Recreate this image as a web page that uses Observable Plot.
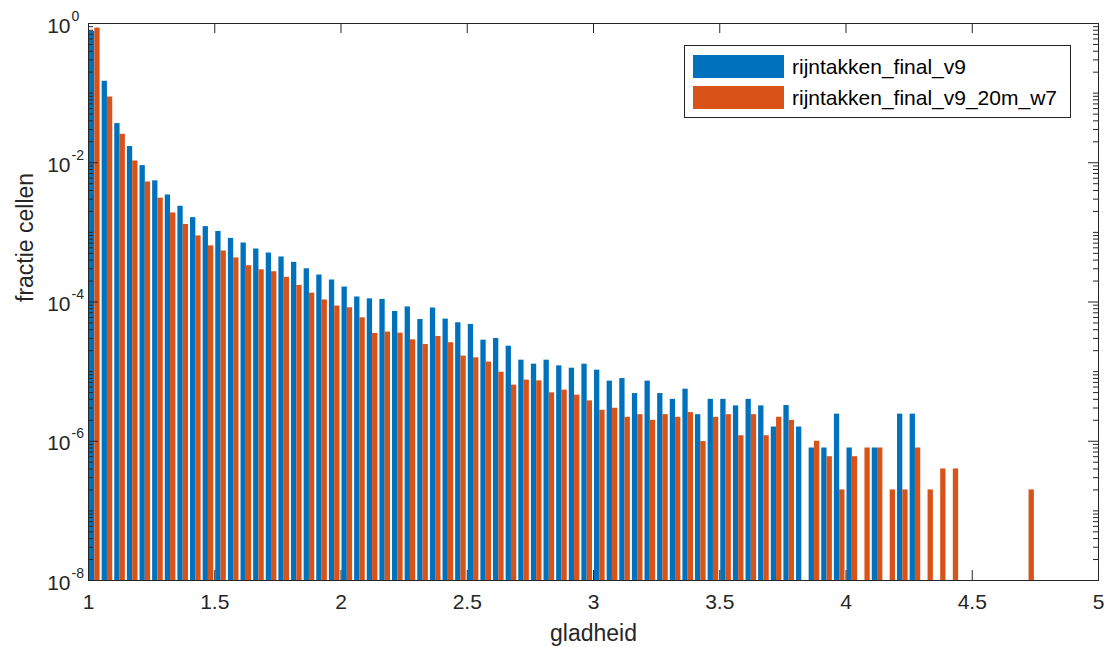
<!DOCTYPE html>
<html>
<head>
<meta charset="utf-8">
<script src="https://cdn.jsdelivr.net/npm/d3@7"></script>
<script src="https://cdn.jsdelivr.net/npm/@observablehq/plot@0.6"></script>
<style>
  body { margin: 0; background: #fff; font-family: "Liberation Sans", Arial, sans-serif; }
  #wrap { position: relative; width: 1107px; height: 647px; }
  #legend { position: absolute; left: 684px; top: 45px; width: 387px; height: 73px;
            border: 1px solid #262626; background: #fff; box-sizing: border-box; }
  .item { position: absolute; left: 8px; height: 23px; display: flex; align-items: center; }
  .sw { width: 91px; height: 23px; margin-right: 8px; flex: none; }
  .lab { font-size: 21px; color: #000; white-space: nowrap; }
</style>
</head>
<body>
<div id="wrap"></div>
<script>
// ---- data ----
const binCenters = [
  1.025, 1.075, 1.125, 1.175, 1.225, 1.275, 1.325, 1.375, 1.425, 1.475,
  1.525, 1.575, 1.625, 1.675, 1.725, 1.775, 1.825, 1.875, 1.925, 1.975,
  2.025, 2.075, 2.125, 2.175, 2.225, 2.275, 2.325, 2.375, 2.425, 2.475,
  2.525, 2.575, 2.625, 2.675, 2.725, 2.775, 2.825, 2.875, 2.925, 2.975,
  3.025, 3.075, 3.125, 3.175, 3.225, 3.275, 3.325, 3.375, 3.425, 3.475,
  3.525, 3.575, 3.625, 3.675, 3.725, 3.775, 3.825, 3.875, 3.925, 3.975,
  4.025, 4.075, 4.125, 4.175, 4.225, 4.275, 4.325, 4.375, 4.425, 4.475,
  4.525, 4.575, 4.625, 4.675, 4.725
];
const seriesNames = ["rijntakken_final_v9", "rijntakken_final_v9_20m_w7"];
const seriesColors = ["#0072BD", "#D95319"];
const blueValues = [
  0.77, 0.148, 0.0365, 0.0171, 0.0091, 0.0055, 0.00344, 0.00237, 0.00163, 0.00121,
  0.00103, 0.00082, 0.000703, 0.000577, 0.000505, 0.000443, 0.000371, 0.0003, 0.000244, 0.000207,
  0.000164, 0.000118, 0.000111, 0.000109, 7.3e-5, 8.5e-5, 5.6e-5, 8.2e-5, 5.68e-5, 5.03e-5,
  4.76e-5, 2.83e-5, 2.99e-5, 2.32e-5, 1.46e-5, 1.28e-5, 1.46e-5, 1.21e-5, 1.12e-5, 1.28e-5,
  1.05e-5, 7.3e-6, 7.96e-6, 4.84e-6, 7.3e-6, 4.84e-6, 4.0e-6, 5.6e-6, 2.41e-6, 4.0e-6,
  4.0e-6, 3.22e-6, 4.0e-6, 3.22e-6, 1.6e-6, 3.26e-6, 1.6e-6, 8.0e-7, 8.0e-7, 2.45e-6,
  8.0e-7, null, 8.0e-7, null, 2.45e-6, 2.45e-6, null, null, null, null,
  null, null, null, null, null
];
const orangeValues = [
  0.86, 0.088, 0.0256, 0.0106, 0.0053, 0.0031, 0.0019, 0.0013, 0.00089, 0.00064,
  0.00054, 0.00043, 0.000332, 0.00029, 0.000272, 0.000226, 0.000173, 0.000134, 0.000107, 8.74e-5,
  8.26e-5, 5.93e-5, 3.53e-5, 3.7e-5, 3.57e-5, 2.86e-5, 2.45e-5, 3.2e-5, 2.6e-5, 1.67e-5,
  1.58e-5, 1.37e-5, 9.8e-6, 6.4e-6, 7.55e-6, 7.38e-6, 4.96e-6, 5.42e-6, 4.59e-6, 3.8e-6,
  2.79e-6, 2.98e-6, 2.21e-6, 2.41e-6, 2.0e-6, 2.41e-6, 2.21e-6, 2.58e-6, 9.9e-7, 2.21e-6,
  2.41e-6, 1.2e-6, 2.41e-6, 1.2e-6, 2.21e-6, 2.0e-6, null, 1.0e-6, 6.0e-7, 2.0e-7,
  6.0e-7, 8.0e-7, 8.0e-7, 2.0e-7, 2.0e-7, 8.0e-7, 2.0e-7, 4.0e-7, 4.0e-7, null,
  null, null, null, null, 2.0e-7
];
const xTicks = [1, 1.5, 2, 2.5, 3, 3.5, 4, 4.5, 5];
const xTickLabels = ["1", "1.5", "2", "2.5", "3", "3.5", "4", "4.5", "5"];
const yTicks = [1, 1e-2, 1e-4, 1e-6, 1e-8];
const yTickExponents = ["0", "-2", "-4", "-6", "-8"];
const xLabel = "gladheid";
const yLabel = "fractie cellen";

// ---- layout ----
const W = 1107, H = 647;
const mL = 88, mR = 9, mT = 23, mB = 67;
const xDomain = [1, 5], yDomain = [1e-8, 1];
const pxPerX = (W - mL - mR) / (xDomain[1] - xDomain[0]);
const pxPerDecade = (H - mT - mB) / 8;
const barW = 0.021;             // bar width in x units
const majorLen = 10, minorLen = 5;
const axisColor = "#262626";

const rows = [];
binCenters.forEach((c, i) => {
  if (blueValues[i] != null) rows.push({x1: c - barW, x2: c, v: blueValues[i], s: seriesNames[0]});
  if (orangeValues[i] != null) rows.push({x1: c, x2: c + barW, v: orangeValues[i], s: seriesNames[1]});
});

const minorY = [];
for (let k = -8; k <= -1; k++) {
  for (let m = 1; m <= 9; m++) {
    if (m === 1 && k % 2 === 0) continue;
    minorY.push(m * Math.pow(10, k));
  }
}

const dxMajor = majorLen / pxPerX, dxMinor = minorLen / pxPerX;
const yMul = Math.pow(10, majorLen / pxPerDecade);

const chart = Plot.plot({
  width: W, height: H,
  marginLeft: mL, marginRight: mR, marginTop: mT, marginBottom: mB,
  style: {fontFamily: "Liberation Sans, Arial, sans-serif", fontSize: "21px", color: axisColor, background: "#fff", overflow: "visible"},
  x: {domain: xDomain, axis: null},
  y: {type: "log", domain: yDomain, axis: null},
  color: {domain: seriesNames, range: seriesColors},
  marks: [
    Plot.rect(rows, {x1: "x1", x2: "x2", y1: () => yDomain[0], y2: "v", fill: "s"}),
    // y ticks, left & right (inside)
    Plot.ruleY(yTicks, {y: d => d, x1: xDomain[0], x2: xDomain[0] + dxMajor, stroke: axisColor}),
    Plot.ruleY(yTicks, {y: d => d, x1: xDomain[1] - dxMajor, x2: xDomain[1], stroke: axisColor}),
    Plot.ruleY(minorY, {y: d => d, x1: xDomain[0], x2: xDomain[0] + dxMinor, stroke: axisColor}),
    Plot.ruleY(minorY, {y: d => d, x1: xDomain[1] - dxMinor, x2: xDomain[1], stroke: axisColor}),
    // x ticks, bottom & top (inside)
    Plot.ruleX(xTicks, {x: d => d, y1: yDomain[0], y2: yDomain[0] * yMul, stroke: axisColor}),
    Plot.ruleX(xTicks, {x: d => d, y1: yDomain[1] / yMul, y2: yDomain[1], stroke: axisColor}),
    Plot.frame({stroke: axisColor, strokeWidth: 1}),
    // x tick labels
    Plot.text(xTicks, {x: d => d, frameAnchor: "bottom", text: (d, i) => xTickLabels[i],
      lineAnchor: "top", dy: 14, fontSize: 21, fill: axisColor}),
    // y tick labels: base and exponent
    Plot.text(yTicks, {y: d => d, frameAnchor: "left", text: () => "10",
      textAnchor: "end", lineAnchor: "bottom", dx: -18, dy: 9, fontSize: 21, fill: axisColor}),
    Plot.text(yTicks, {y: d => d, frameAnchor: "left", text: (d, i) => yTickExponents[i],
      textAnchor: "start", lineAnchor: "bottom", dx: -17, dy: -3, fontSize: 14, fill: axisColor}),
    // axis labels
    Plot.text([xLabel], {frameAnchor: "bottom", text: d => d, lineAnchor: "bottom", dy: 60, fontSize: 23, fill: axisColor}),
    Plot.text([yLabel], {frameAnchor: "left", text: d => d, rotate: -90, lineAnchor: "bottom", dx: -56, fontSize: 23, fill: axisColor})
  ]
});

const wrap = document.getElementById("wrap");
wrap.appendChild(chart);

// legend
const legend = document.createElement("div");
legend.id = "legend";
seriesNames.forEach((name, i) => {
  const item = document.createElement("div");
  item.className = "item";
  item.style.top = (9 + i * 31) + "px";
  const sw = document.createElement("div");
  sw.className = "sw";
  sw.style.background = seriesColors[i];
  const lab = document.createElement("span");
  lab.className = "lab";
  lab.textContent = name;
  item.appendChild(sw);
  item.appendChild(lab);
  legend.appendChild(item);
});
wrap.appendChild(legend);
</script>
</body>
</html>
